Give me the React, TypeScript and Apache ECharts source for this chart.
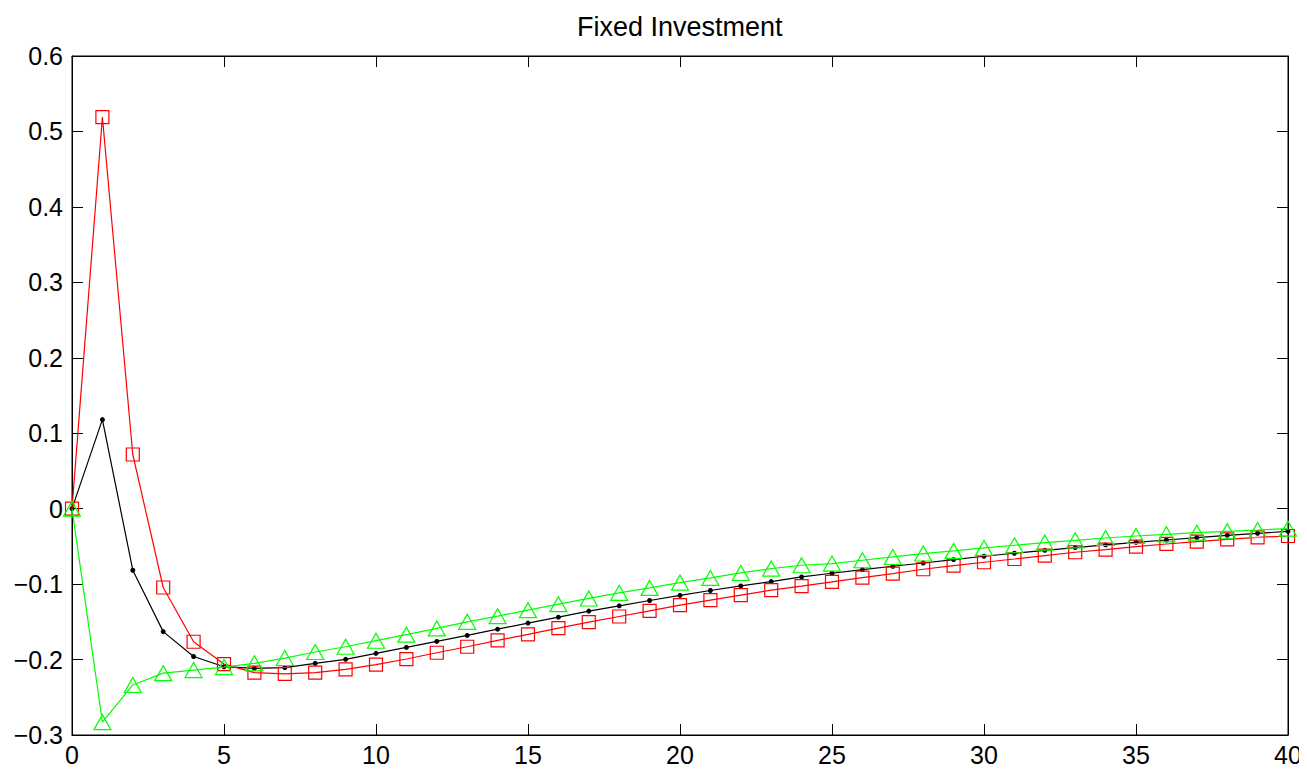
import React, { useEffect, useRef } from "react";
import * as echarts from "echarts";

const periods: number[] = Array.from({ length: 41 }, (_, i) => i);

const blackSeries: number[] = [
  0, 0.118, -0.0816, -0.163, -0.196, -0.2095, -0.2116, -0.2108, -0.205, -0.1997, -0.1918,
  -0.1839, -0.176, -0.168, -0.1597, -0.1517, -0.1438, -0.1358, -0.1288, -0.1217, -0.115,
  -0.1085, -0.1024, -0.0966, -0.0905, -0.0856, -0.0807, -0.0763, -0.072, -0.0675, -0.0631,
  -0.0591, -0.0552, -0.0516, -0.0481, -0.0446, -0.0415, -0.0384, -0.0353, -0.0327, -0.03,
];

const redSeries: number[] = [
  0, 0.519, 0.0718, -0.1045, -0.1764, -0.206, -0.2174, -0.219, -0.2174, -0.213, -0.2068,
  -0.1993, -0.191, -0.183, -0.1746, -0.1667, -0.1583, -0.1504, -0.1429, -0.1354, -0.1279,
  -0.1213, -0.1147, -0.108, -0.1026, -0.097, -0.0913, -0.086, -0.0803, -0.0754, -0.071,
  -0.0667, -0.0622, -0.0578, -0.0542, -0.0503, -0.0468, -0.0437, -0.0406, -0.038, -0.0362,
];

const greenSeries: number[] = [
  0, -0.283, -0.2337, -0.218, -0.214, -0.21, -0.205, -0.198, -0.19, -0.183, -0.175,
  -0.167, -0.1587, -0.15, -0.1425, -0.1345, -0.1266, -0.119, -0.1116, -0.105, -0.098,
  -0.0918, -0.0852, -0.0794, -0.075, -0.0728, -0.0684, -0.064, -0.0595, -0.056, -0.052,
  -0.0485, -0.045, -0.042, -0.0389, -0.0362, -0.034, -0.0318, -0.03, -0.0283, -0.0265,
];

const title = "Fixed Investment";
const FONT = "'Liberation Sans', Arial, Helvetica, sans-serif";

export default function App() {
  const ref = useRef<HTMLDivElement>(null);
  useEffect(() => {
    if (!ref.current) return;
    const chart = echarts.init(ref.current, null, { renderer: "svg" });
    const pair = (arr: number[]) => arr.map((v, i) => [periods[i], v]);
    const tickStyle = { show: true, inside: true, length: 11, lineStyle: { color: "#000", width: 1 } };
    const lineAx = { show: true, onZero: false, lineStyle: { color: "#000", width: 1 } };
    chart.setOption({
      animation: false,
      backgroundColor: "#fff",
      graphic: [
        {
          type: "text",
          left: 569,
          top: 5,
          style: {
            text: title,
            fontFamily: FONT,
            fontSize: 27,
            fill: "#000",
          },
        },
      ],
      grid: {
        left: 64,
        right: 19,
        top: 48,
        bottom: 34,
        show: true,
        borderColor: "#000",
        borderWidth: 1,
        backgroundColor: "#fff",
      },
      xAxis: [
        {
          type: "value",
          min: 0,
          max: 40,
          interval: 5,
          position: "bottom",
          axisLine: lineAx,
          axisTick: tickStyle,
          splitLine: { show: false },
          axisLabel: { color: "#000", fontFamily: FONT, fontSize: 25, margin: 7 },
        },
        {
          type: "value",
          min: 0,
          max: 40,
          interval: 5,
          position: "top",
          axisLine: lineAx,
          axisTick: tickStyle,
          splitLine: { show: false },
          axisLabel: { show: false },
        },
      ],
      yAxis: [
        {
          type: "value",
          min: -0.3,
          max: 0.6,
          interval: 0.1,
          position: "left",
          axisLine: lineAx,
          axisTick: tickStyle,
          splitLine: { show: false },
          axisLabel: {
            color: "#000",
            fontFamily: FONT,
            fontSize: 25,
            margin: 9,
            formatter: (v: number) => {
              const r = Math.round(v * 10) / 10;
              if (r === 0) return "0";
              return r < 0 ? "\u2212" + String(-r) : String(r);
            },
          },
        },
        {
          type: "value",
          min: -0.3,
          max: 0.6,
          interval: 0.1,
          position: "right",
          axisLine: lineAx,
          axisTick: tickStyle,
          splitLine: { show: false },
          axisLabel: { show: false },
        },
      ],
      series: [
        {
          type: "line",
          data: pair(blackSeries),
          symbol: "circle",
          symbolSize: 5,
          lineStyle: { color: "#000", width: 1.2 },
          itemStyle: { color: "#000" },
          z: 3,
        },
        {
          type: "line",
          data: pair(redSeries),
          symbol: "rect",
          symbolSize: 13,
          lineStyle: { color: "#ff0000", width: 1.2 },
          itemStyle: { color: "rgba(0,0,0,0)", borderColor: "#ff0000", borderWidth: 1.2 },
          z: 4,
        },
        {
          type: "line",
          data: pair(greenSeries),
          symbol: "triangle",
          symbolSize: [17, 15],
          lineStyle: { color: "#00ff00", width: 1.2 },
          itemStyle: { color: "rgba(0,0,0,0)", borderColor: "#00ff00", borderWidth: 1.2 },
          z: 5,
        },
      ],
    });
    return () => chart.dispose();
  }, []);
  return <div ref={ref} style={{ width: 1299, height: 761 }} />;
}
